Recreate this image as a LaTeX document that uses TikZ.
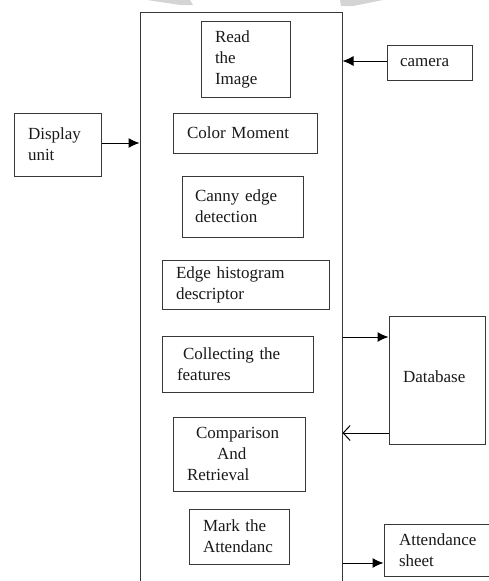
\documentclass[tikz,border=0pt]{standalone}
\usepackage{fontspec}
\setmainfont{Liberation Serif}
\usetikzlibrary{arrows.meta}
\definecolor{edge}{gray}{0.22}
\definecolor{wmark}{gray}{0.83}
\tikzset{
  blk/.style={draw=edge, line width=1pt, inner ysep=0pt, align=left,
    font=\fontsize{17}{21}\selectfont, text=black!90},
  bx/.style 2 args={minimum width={#1pt}, text width={(#1-2*#2)*1pt}, inner xsep={#2pt}},
  conn/.style={draw=black, line width=1pt, -{Latex[length=11pt,width=10pt]}},
  openconn/.style={draw=black, line width=1pt, -{Straight Barb[length=7pt,width=15pt]}},
}
\begin{document}
\begin{tikzpicture}[x=1pt,y=-1pt]
\useasboundingbox (0,0) rectangle (488,581);
% faint watermark shapes at the top edge
\fill[wmark] (147,0) -- (190,0) -- (193,5) -- (180,5) -- cycle;
\fill[wmark] (340,0) -- (383,0) -- (353,6) -- (341,6) -- cycle;

\node[blk, minimum width=202pt, minimum height=588pt, inner xsep=0pt] (main) at (241,306) {};

\node[blk, bx={89}{14}, minimum height=76pt] (read) at (245.5,59) {Read\\the\\Image};
\node[blk, bx={85}{13}, minimum height=35pt] (camera) at (429.5,62.5) {camera};
\node[blk, bx={87}{14}, minimum height=63pt] (display) at (57.5,144.5) {Display\\unit};
\node[blk, bx={144}{14}, minimum height=40pt] (color) at (245,133) {Color Moment};
\node[blk, bx={121}{13}, minimum height=61pt] (canny) at (242.5,206.5) {Canny edge\\detection};
\node[blk, bx={167}{14}, minimum height=49pt] (edgeh) at (245.5,284.5) {\raisebox{-3pt}{Edge histogram}\\\raisebox{-3pt}{descriptor}};
\node[blk, bx={151}{15}, minimum height=56pt] (collect) at (237.5,364) {\hspace*{6pt}Collecting the\\features};
\node[blk, bx={96}{14}, minimum height=128pt] (db) at (437,380) {\raisebox{6pt}{Database}};
\node[blk, bx={132}{14}, minimum height=74pt] (comp) at (239,454) {\hspace*{9pt}Comparison\\\hspace*{30pt}And\\Retrieval};
\node[blk, bx={100}{14}, minimum height=55pt] (mark) at (239,536.5) {Mark the\\Attendanc};
\node[blk, bx={108}{15}, minimum height=52pt] (sheet) at (438,550) {Attendance\\sheet};

\coordinate (ycam) at (0,61);
\coordinate (ydisp) at (0,143);
\coordinate (ydbin) at (0,337);
\coordinate (ydbout) at (0,433);
\coordinate (ysheet) at (0,563);

\draw[conn] (camera.west |- ycam) -- (main.east |- ycam);
\draw[conn] (display.east |- ydisp) -- (main.west |- ydisp);
\draw[conn] (main.east |- ydbin) -- (db.west |- ydbin);
\draw[openconn] (db.west |- ydbout) -- (main.east |- ydbout);
\draw[conn] (main.east |- ysheet) -- (sheet.west |- ysheet);
\end{tikzpicture}
\end{document}
